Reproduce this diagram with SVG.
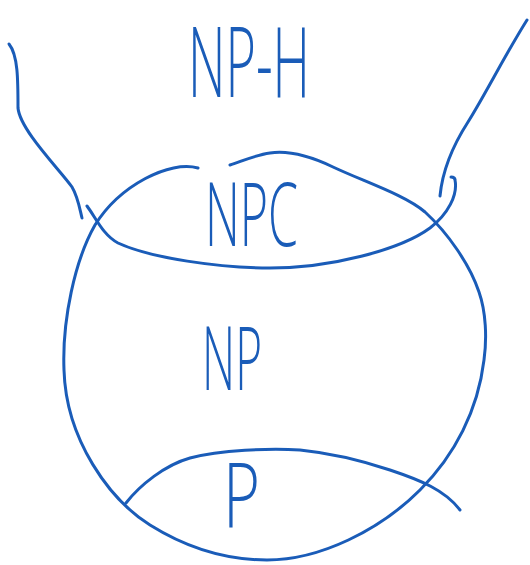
<svg xmlns="http://www.w3.org/2000/svg" width="530" height="565" viewBox="0 0 530 565">
<style>
.ln{fill:none;stroke:#1a5cb8;stroke-width:3;stroke-linecap:round;stroke-linejoin:round}
.lb{font-family:"Open Sans","Liberation Sans",Arial,sans-serif;fill:#1a5cb8;font-weight:300}
</style>
<rect width="530" height="565" fill="#ffffff"/>
<g id="np-hard">
<path class="ln" d="M9,44 C18,55 18,80 18,108 C20,130 60,170 72,187 C78,197 80,210 82,218"/>
<path class="ln" d="M87,206 C96,218 103,235 118,243 C150,258 220,268 270,268 C330,268 400,250 430,228 C448,214 458,195 455,180 C455,178 453,177 451,177"/>
<path class="ln" d="M440,196 C442,175 450,150 468,122 C485,95 505,55 527,20"/>
<text class="lb" x="188" y="97" font-size="98" textLength="122" lengthAdjust="spacingAndGlyphs">NP-H</text>
</g>
<g id="npc">
<text class="lb" x="205" y="246" font-size="88" textLength="93" lengthAdjust="spacingAndGlyphs">NPC</text>
</g>
<g id="np">
<path class="ln" d="M230,165 C240,162 255,155 270,153 C290,150 310,156 333,167 C365,182 405,195 425,212 C448,233 470,265 479,292 C486,312 487,338 484,360 C478,410 455,455 420,490 C380,530 320,560 267,560 C230,560 190,550 150,525 C110,500 66,440 64,370 C62,320 75,260 95,225 C120,185 170,160 198,168"/>
<text class="lb" x="202" y="390" font-size="88" textLength="60" lengthAdjust="spacingAndGlyphs">NP</text>
</g>
<g id="p">
<path class="ln" d="M126,503 C140,485 165,465 190,458 C220,450 270,448 300,450 C330,453 360,460 390,470 C420,480 445,490 460,510"/>
<text class="lb" x="223" y="528" font-size="90" textLength="37" lengthAdjust="spacingAndGlyphs">P</text>
</g>
<g id="connectors"/>
</svg>
